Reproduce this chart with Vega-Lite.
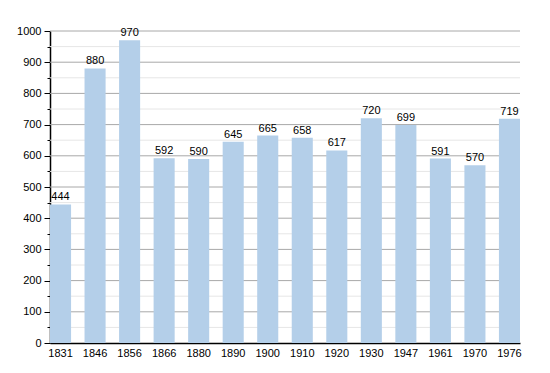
{
  "$schema": "https://vega.github.io/schema/vega-lite/v6.json",
  "width": 470,
  "height": 312,
  "autosize": {"type": "none"},
  "padding": {"left": 50, "top": 31, "right": 30, "bottom": 30},
  "background": "white",
  "config": {
    "view": {"stroke": null},
    "font": "Liberation Sans",
    "axis": {"labelFont": "Liberation Sans", "labelFontSize": 11, "labelColor": "#000000", "grid": false}
  },
  "datasets": {
    "pop": [
      {"year": "1831", "pop": 444},
      {"year": "1846", "pop": 880},
      {"year": "1856", "pop": 970},
      {"year": "1866", "pop": 592},
      {"year": "1880", "pop": 590},
      {"year": "1890", "pop": 645},
      {"year": "1900", "pop": 665},
      {"year": "1910", "pop": 658},
      {"year": "1920", "pop": 617},
      {"year": "1930", "pop": 720},
      {"year": "1947", "pop": 699},
      {"year": "1961", "pop": 591},
      {"year": "1970", "pop": 570},
      {"year": "1976", "pop": 719}
    ],
    "minor": [
      {"v": 50}, {"v": 150}, {"v": 250}, {"v": 350}, {"v": 450},
      {"v": 550}, {"v": 650}, {"v": 750}, {"v": 850}, {"v": 950}
    ],
    "major": [
      {"v": 100}, {"v": 200}, {"v": 300}, {"v": 400}, {"v": 500},
      {"v": 600}, {"v": 700}, {"v": 800}, {"v": 900}, {"v": 1000}
    ]
  },
  "layer": [
    {
      "data": {"name": "minor"},
      "mark": {"type": "rule", "color": "#e6e6e6", "strokeWidth": 1},
      "encoding": {
        "y": {
          "field": "v",
          "type": "quantitative",
          "scale": {"domain": [0, 1000], "nice": false},
          "axis": {
            "title": null,
            "values": [50, 150, 250, 350, 450, 550, 650, 750, 850, 950],
            "labels": false,
            "domain": false,
            "tickSize": 3,
            "tickColor": "#000000",
            "orient": "left"
          }
        }
      }
    },
    {
      "data": {"name": "major"},
      "mark": {"type": "rule", "color": "#a8a8a8", "strokeWidth": 1},
      "encoding": {
        "y": {
          "field": "v",
          "type": "quantitative",
          "axis": {
            "title": null,
            "values": [0, 100, 200, 300, 400, 500, 600, 700, 800, 900, 1000],
            "format": "d",
            "tickSize": 6,
            "tickColor": "#000000",
            "domainColor": "#000000",
            "domainWidth": 1.5,
            "labelPadding": 3,
            "orient": "left"
          }
        }
      }
    },
    {
      "data": {"name": "pop"},
      "mark": {"type": "bar", "color": "#b4cfe9"},
      "encoding": {
        "x": {
          "field": "year",
          "type": "ordinal",
          "sort": null,
          "scale": {"paddingInner": 0.39, "paddingOuter": 0},
          "axis": {"title": null, "labelAngle": 0, "ticks": false, "domainColor": "#000000", "domainWidth": 1.5, "labelPadding": 4}
        },
        "y": {"field": "pop", "type": "quantitative", "axis": null}
      }
    },
    {
      "data": {"name": "pop"},
      "mark": {"type": "text", "baseline": "alphabetic", "dy": -4, "fontSize": 11, "color": "#000000", "font": "Liberation Sans"},
      "encoding": {
        "x": {"field": "year", "type": "ordinal", "sort": null},
        "y": {"field": "pop", "type": "quantitative", "axis": null},
        "text": {"field": "pop", "type": "quantitative"}
      }
    }
  ],
  "resolve": {"axis": {"y": "independent"}}
}
